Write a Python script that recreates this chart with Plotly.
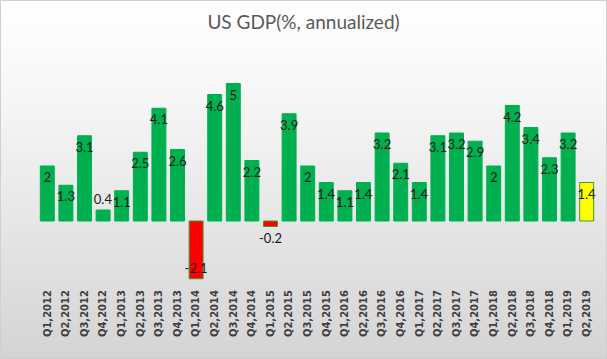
import plotly.graph_objects as go
import base64

quarters = ["Q1,2012","Q2,2012","Q3,2012","Q4,2012","Q1,2013","Q2,2013","Q3,2013","Q4,2013",
            "Q1,2014","Q2,2014","Q3,2014","Q4,2014","Q1,2015","Q2,2015","Q3,2015","Q4,2015",
            "Q1,2016","Q2,2016","Q3,2016","Q4,2016","Q1,2017","Q2,2017","Q3,2017","Q4,2017",
            "Q1,2018","Q2,2018","Q3,2018","Q4,2018","Q1,2019","Q2,2019"]
gdp = [2, 1.3, 3.1, 0.4, 1.1, 2.5, 4.1, 2.6, -2.1, 4.6, 5, 2.2, -0.2, 3.9, 2, 1.4,
       1.1, 1.4, 3.2, 2.1, 1.4, 3.1, 3.2, 2.9, 2, 4.2, 3.4, 2.3, 3.2, 1.4]

colors = []
lines = []
for i, v in enumerate(gdp):
    if i == len(gdp) - 1:
        colors.append("#FFFF00"); lines.append("#3f9a2e")
    elif v < 0:
        colors.append("#FF0000"); lines.append("#3f9a2e")
    else:
        colors.append("#00B050"); lines.append("#00B050")

positions = ["outside" if abs(v) < 0.5 else "inside" for v in gdp]

W, H = 607, 359
L, R, T, B = 38, 11, 56, 72
pw, ph = W - L - R, H - T - B

svg = ('<svg xmlns="http://www.w3.org/2000/svg" width="10" height="100" preserveAspectRatio="none">'
       '<defs><linearGradient id="g" x1="0" y1="0" x2="0" y2="1">'
       '<stop offset="0" stop-color="#ffffff"/><stop offset="0.3" stop-color="#f5f5f5"/>'
       '<stop offset="1" stop-color="#d4d4d4"/></linearGradient></defs>'
       '<rect width="10" height="100" fill="url(#g)"/></svg>')
src = "data:image/svg+xml;base64," + base64.b64encode(svg.encode()).decode()

fig = go.Figure(go.Bar(
    x=quarters, y=gdp,
    marker=dict(color=colors, line=dict(color=lines, width=1)),
    text=[str(v) for v in gdp],
    textposition=positions,
    textangle=0,
    insidetextanchor="end",
    constraintext="none",
    cliponaxis=False,
    textfont=dict(family="Lato, Carlito, sans-serif", size=13, color="#1a1a1a"),
    outsidetextfont=dict(family="Lato, Carlito, sans-serif", size=13, color="#1a1a1a"),
))

fig.update_layout(
    width=W, height=H,
    margin=dict(l=L, r=R, t=T, b=B),
    paper_bgcolor="white",
    plot_bgcolor="rgba(0,0,0,0)",
    bargap=0.25,
    showlegend=False,
    title=dict(text="US GDP(%, annualized)", x=0.5, xanchor="center", y=1 - 22 / H, yanchor="middle",
               font=dict(family="Lato, Carlito, sans-serif", size=19, color="#595959")),
    xaxis=dict(type="category", tickangle=-90, showline=False, showgrid=False, ticks="",
               automargin=False,
               tickfont=dict(family="DejaVu Sans", size=10, color="#404040", weight="bold")),
    yaxis=dict(visible=False, range=[-2.4, 6.0], fixedrange=True, automargin=False),
    images=[dict(source=src, xref="paper", yref="paper",
                 x=-L / pw, y=1 + T / ph, sizex=W / pw, sizey=H / ph,
                 xanchor="left", yanchor="top", sizing="stretch", layer="below")],
    shapes=[dict(type="rect", xref="paper", yref="paper",
                 x0=(0.5 - L) / pw, x1=(W - 0.5 - L) / pw,
                 y0=(T + ph - (H - 0.5)) / ph, y1=(T + ph - 0.5) / ph,
                 line=dict(color="#d0d0d0", width=1), fillcolor="rgba(0,0,0,0)")],
)

fig.write_html("out.html", config={"displayModeBar": False},
               post_script="document.body.style.margin='0';document.body.style.overflow='hidden';")
